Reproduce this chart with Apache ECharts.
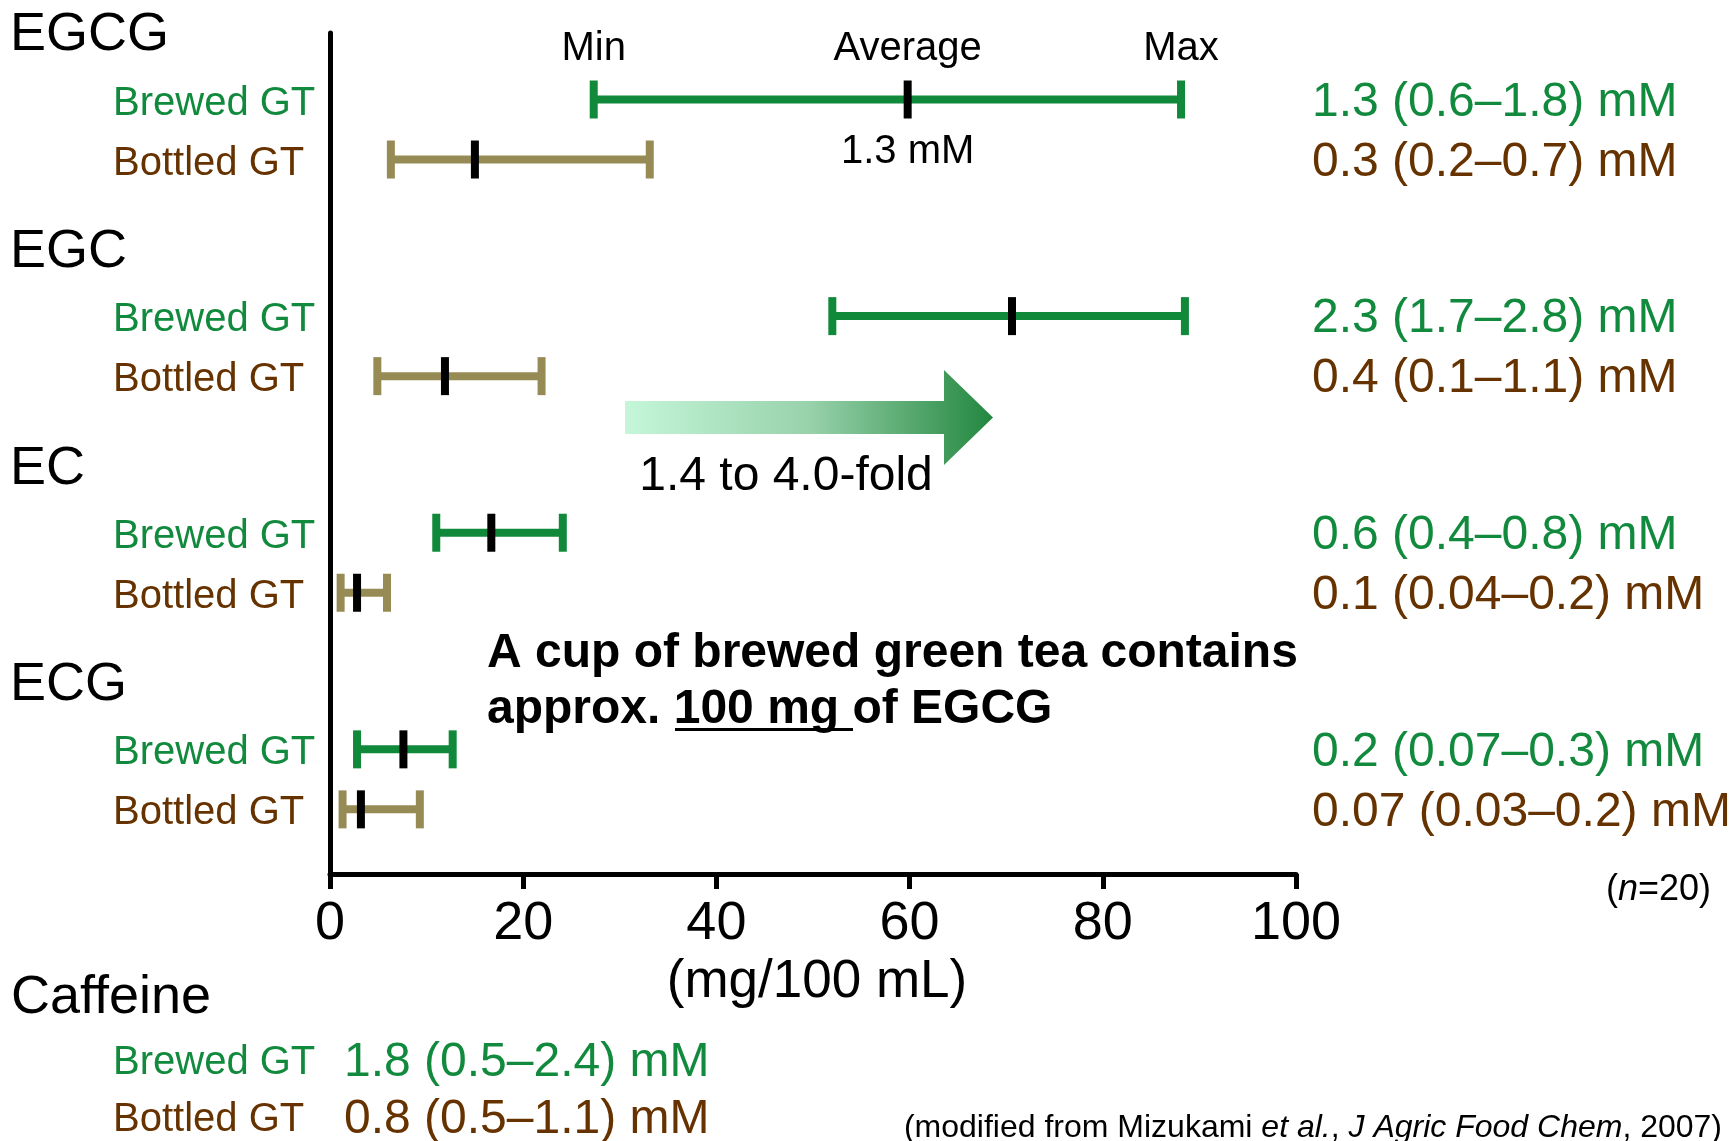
<!DOCTYPE html>
<html>
<head>
<meta charset="utf-8">
<script src="https://cdn.jsdelivr.net/npm/echarts@6/dist/echarts.min.js"></script>
<style>
html,body{margin:0;padding:0;background:#fff;}
#chart{width:1733px;height:1141px;}
</style>
</head>
<body>
<div id="chart"></div>
<script>
// ---------- data ----------
const compounds = ['EGCG', 'EGC', 'EC', 'ECG'];
const brewedMin = [27.3, 52.0, 11.0, 2.8];
const brewedAvg = [59.8, 70.6, 16.7, 7.6];
const brewedMax = [88.1, 88.5, 24.1, 12.7];
const bottledMin = [6.3, 4.9, 1.1, 1.3];
const bottledAvg = [15.0, 11.9, 2.8, 3.2];
const bottledMax = [33.1, 21.9, 5.9, 9.3];
const brewedMolar = ['1.3 (0.6\u20131.8) mM', '2.3 (1.7\u20132.8) mM', '0.6 (0.4\u20130.8) mM', '0.2 (0.07\u20130.3) mM'];
const bottledMolar = ['0.3 (0.2\u20130.7) mM', '0.4 (0.1\u20131.1) mM', '0.1 (0.04\u20130.2) mM', '0.07 (0.03\u20130.2) mM'];
const teaTypes = ['Brewed GT', 'Bottled GT'];
const caffeineMolar = ['1.8 (0.5\u20132.4) mM', '0.8 (0.5\u20131.1) mM'];
const markerNames = ['Min', 'Average', 'Max'];
const egcgAvgMolar = '1.3 mM';
const xMin = 0, xMax = 100, xStep = 20;

// ---------- layout constants ----------
const FONT = 'Liberation Sans, Arial, Helvetica, sans-serif';
const GREEN = '#128a3e';
const BROWN = '#663300';
const BAR_GREEN = '#11893b';
const BAR_KHAKI = '#978b55';
const FIRST_ROW = 1.107, GROUP_STEP = 3.606, PAIR_STEP = 0.999; // y-axis units
const TITLE_PX = -64;

// build rows
const rows = [];
compounds.forEach((c, g) => {
  const yb = FIRST_ROW + g * GROUP_STEP;
  rows.push([brewedMin[g], brewedAvg[g], brewedMax[g], yb, 0, g]);
  rows.push([bottledMin[g], bottledAvg[g], bottledMax[g], yb + PAIR_STEP, 1, g]);
});
const titleRows = compounds.map((c, g) => [0, FIRST_ROW + g * GROUP_STEP]);

const chart = echarts.init(document.getElementById('chart'), null, {renderer: 'canvas'});

function errorBarItem(params, api) {
  const y = api.value(3);
  const kind = api.value(4);
  const g = api.value(5);
  const pMin = api.coord([api.value(0), y]);
  const pAvg = api.coord([api.value(1), y]);
  const pMax = api.coord([api.value(2), y]);
  const x0 = api.coord([xMin, y])[0];
  const x100 = api.coord([xMax, y])[0];
  const col = kind === 0 ? BAR_GREEN : BAR_KHAKI;
  const txtCol = kind === 0 ? GREEN : BROWN;
  const cy = pMin[1];
  const children = [
    {type: 'line', shape: {x1: pMin[0], y1: cy, x2: pMax[0], y2: cy}, style: {stroke: col, lineWidth: 8}},
    {type: 'rect', shape: {x: pMin[0] - 4, y: cy - 19, width: 8, height: 38}, style: {fill: col}},
    {type: 'rect', shape: {x: pMax[0] - 4, y: cy - 19, width: 8, height: 38}, style: {fill: col}},
    {type: 'rect', shape: {x: pAvg[0] - 4, y: cy - 19, width: 8, height: 38}, style: {fill: '#000'}},
    {type: 'text', style: {text: teaTypes[kind], x: x0 - 217, y: cy + 4, fill: txtCol, fontSize: 40, fontFamily: FONT, align: 'left', verticalAlign: 'middle'}},
    {type: 'text', style: {text: kind === 0 ? brewedMolar[g] : bottledMolar[g], x: x100 + 16, y: cy + 3, fill: txtCol, fontSize: 48, fontFamily: FONT, align: 'left', verticalAlign: 'middle'}}
  ];
  if (kind === 0 && g === 0) {
    [pMin, pAvg, pMax].forEach((p, i) => {
      children.push({type: 'text', style: {text: markerNames[i], x: p[0], y: cy - 51, fill: '#000', fontSize: 40, fontFamily: FONT, align: 'center', verticalAlign: 'middle'}});
    });
    children.push({type: 'text', style: {text: egcgAvgMolar, x: pAvg[0], y: cy + 52, fill: '#000', fontSize: 40, fontFamily: FONT, align: 'center', verticalAlign: 'middle'}});
  }
  return {type: 'group', children: children};
}

function titleItem(params, api) {
  const p = api.coord([api.value(0), api.value(1)]);
  return {type: 'text', style: {text: compounds[params.dataIndex], x: p[0] - 320, y: p[1] + TITLE_PX, fill: '#000', fontSize: 54, fontFamily: FONT, align: 'left', verticalAlign: 'middle'}};
}

const option = {
  backgroundColor: '#fff',
  animation: false,
  textStyle: {fontFamily: FONT},
  grid: {left: 330, right: 437, top: 33, bottom: 267, containLabel: false, outerBoundsMode: 'none'},
  xAxis: {
    type: 'value', min: xMin, max: xMax, interval: xStep,
    axisLine: {show: true, onZero: false, lineStyle: {color: '#000', width: 5}},
    axisTick: {show: true, length: 15, lineStyle: {color: '#000', width: 5}},
    axisLabel: {show: true, color: '#000', fontSize: 54, margin: 23, fontFamily: FONT},
    splitLine: {show: false},
    name: '(mg/100 mL)', nameLocation: 'middle', nameGap: 81,
    nameTextStyle: {color: '#000', fontSize: 53, fontFamily: FONT, padding: [0, 0, 0, 8]}
  },
  yAxis: {
    type: 'value', min: 0, max: 14, inverse: true,
    axisLine: {show: true, onZero: false, lineStyle: {color: '#000', width: 5}},
    axisTick: {show: false}, axisLabel: {show: false}, splitLine: {show: false}
  },
  series: [
    {type: 'custom', renderItem: errorBarItem, data: rows, clip: false, silent: true},
    {type: 'custom', renderItem: titleItem, data: titleRows, clip: false, silent: true}
  ],
  graphic: [
    {type: 'polygon', shape: {points: [[625, 401], [944, 401], [944, 370], [993, 417.5], [944, 465], [944, 434], [625, 434]]},
      style: {fill: new echarts.graphic.LinearGradient(0, 0, 1, 0, [
        {offset: 0, color: '#c5f6d9'}, {offset: 0.5, color: '#98d2ab'}, {offset: 1, color: '#22873f'}])}},
    {type: 'text', style: {text: '1.4 to 4.0-fold', x: 786, y: 477, fill: '#000', fontSize: 48, fontFamily: FONT, align: 'center', verticalAlign: 'middle'}},
    {type: 'text', style: {text: 'A cup of brewed green tea contains', x: 487, y: 654, fill: '#000', fontSize: 48, fontWeight: 'bold', fontFamily: FONT, align: 'left', verticalAlign: 'middle'}},
    {type: 'text', style: {text: 'approx. 100 mg of EGCG', x: 487, y: 710, fill: '#000', fontSize: 48, fontWeight: 'bold', fontFamily: FONT, align: 'left', verticalAlign: 'middle'}},
    {type: 'rect', shape: {x: 675, y: 728, width: 178, height: 3}, style: {fill: '#000'}},
    {type: 'text', style: {text: '({i|n}=20)', x: 1711, y: 890, align: 'right', verticalAlign: 'middle',
      rich: {i: {fontStyle: 'italic', fontSize: 36, fontFamily: FONT, fill: '#000'}}, fontSize: 36, fontFamily: FONT, fill: '#000'}},
    {type: 'text', style: {text: 'Caffeine', x: 11, y: 998, fill: '#000', fontSize: 54, fontFamily: FONT, align: 'left', verticalAlign: 'middle'}},
    {type: 'text', style: {text: teaTypes[0], x: 113, y: 1063, fill: GREEN, fontSize: 40, fontFamily: FONT, align: 'left', verticalAlign: 'middle'}},
    {type: 'text', style: {text: caffeineMolar[0], x: 344, y: 1063, fill: GREEN, fontSize: 48, fontFamily: FONT, align: 'left', verticalAlign: 'middle'}},
    {type: 'text', style: {text: teaTypes[1], x: 113, y: 1120, fill: BROWN, fontSize: 40, fontFamily: FONT, align: 'left', verticalAlign: 'middle'}},
    {type: 'text', style: {text: caffeineMolar[1], x: 344, y: 1120, fill: BROWN, fontSize: 48, fontFamily: FONT, align: 'left', verticalAlign: 'middle'}},
    {type: 'text', style: {text: '(modified from Mizukami {i|et al.}, {i|J Agric Food Chem}, 2007)', x: 1722, y: 1128, align: 'right', verticalAlign: 'middle',
      fontSize: 32, fontFamily: FONT, fill: '#000', rich: {i: {fontStyle: 'italic', fontSize: 32, fontFamily: FONT, fill: '#000'}}}}
  ]
};
chart.setOption(option);
</script>
</body>
</html>
